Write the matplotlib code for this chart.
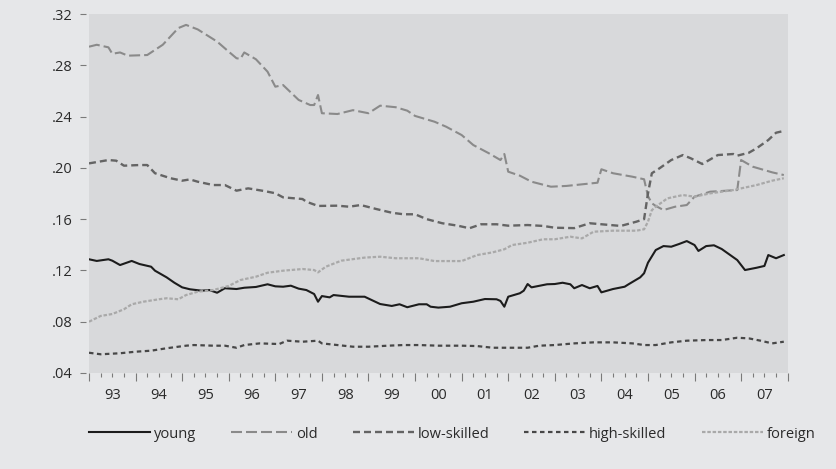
import matplotlib
matplotlib.use("Agg")
import matplotlib.pyplot as plt
from matplotlib.ticker import MultipleLocator, FixedLocator, NullFormatter
import numpy as np

# ---- data (months since Jan 1993, value) ----
years = ["93", "94", "95", "96", "97", "98", "99", "00", "01", "02", "03", "04", "05", "06", "07"]
start_year = 1993

young_m = [0, 2, 5, 6, 8, 11, 13, 16, 17, 20, 22, 24, 26, 29, 31, 33, 35, 38, 40, 43, 46, 48, 50, 52, 54, 56, 58, 59,
           60, 62, 63, 67, 71, 75, 78, 80, 82, 85, 87, 88, 90, 93, 96, 99, 102, 105, 106, 107, 108, 111, 112, 113,
           114, 118, 120, 122, 124, 125, 127, 129, 131, 132, 135, 138, 139, 142, 143, 144, 146, 148, 150, 152, 154,
           156, 157, 159, 161, 163, 167, 169, 172, 174, 175, 177, 179]
young_v = [.1287, .1274, .1287, .1276, .1242, .1274, .1250, .1229, .1198, .1146, .1104, .1068, .1053, .1042, .1047,
           .1026, .1061, .1055, .1065, .1071, .1092, .1076, .1073, .1081, .1058, .1047, .1016, .0956,
           .1000, .0990, .1008, .0995, .0995, .0938, .0923, .0936, .0913, .0936, .0936, .0917, .0910, .0917, .0944,
           .0956, .0977, .0975, .0962, .0917, .0995, .1022, .1042, .1094,
           .1068, .1092, .1094, .1104, .1092, .1061, .1086, .1061, .1079, .1029, .1055, .1073, .1092, .1146, .1178,
           .1260, .1359, .1390, .1385, .1406, .1429,
           .1398, .1352, .1390, .1396, .1367, .1281, .1203, .1221, .1235, .1320, .1295, .1320]

old_m = [0, 2, 5, 6, 8, 10, 15, 19, 23, 25, 28, 33, 36, 38, 39, 40, 43, 46, 48, 50, 54, 57, 58, 59, 60, 64, 68, 72,
         75, 79, 82, 84, 89, 92, 96, 99, 103, 106, 107, 108, 111, 114, 119, 123, 131, 132, 135, 140, 143, 144, 145,
         146, 148, 151, 154, 156, 160, 167, 168, 171, 176, 179]
old_v = [.2945, .2960, .2940, .2890, .2900, .2875, .2880, .2960, .3090, .3115, .3080, .2985, .2906, .2855, .2850,
         .2900, .2847, .2750, .2633, .2646, .2530, .2490, .2490, .2568, .2426, .2420, .2450, .2426,
         .2485, .2473, .2446, .2405, .2360, .2321, .2256, .2178, .2114, .2061, .2108, .1970, .1939, .1892, .1853,
         .1859, .1884, .1989, .1958, .1931, .1911, .1780, .1724,
         .1703, .1671, .1697, .1710, .1775, .1814, .1827, .2061, .2009, .1965, .1944]

low_m = [0, 1, 5, 7, 9, 13, 15, 17, 21, 24, 26, 28, 32, 35, 38, 41, 45, 48, 50, 55, 56, 59, 64, 67, 70, 74, 78, 81,
         84, 87, 91, 95, 98, 101, 105, 108, 113, 117, 120, 125, 129, 137, 141, 143, 144, 145, 147, 150, 153, 155,
         158, 162, 166, 167, 170, 172, 175, 177, 179]
low_v = [.2035, .2040, .2061, .2056, .2017, .2022, .2022, .1958, .1919, .1900, .1910, .1892, .1866, .1866, .1822,
         .1840, .1820, .1802, .1770, .1757, .1736, .1703, .1705, .1697, .1710, .1679, .1650, .1638,
         .1638, .1600, .1568, .1549, .1529, .1560, .1560, .1549, .1554, .1547, .1533, .1530, .1568, .1547, .1580,
         .1600, .1800, .1958, .1997, .2061, .2100, .2075,
         .2030, .2100, .2108, .2095, .2118, .2153, .2217, .2274, .2288]

high_m = [0, 3, 8, 12, 16, 20, 25, 27, 32, 35, 38, 40, 44, 49, 51, 55, 59, 60, 64, 68, 72, 77, 81, 85, 90, 96, 100,
          104, 108, 113, 116, 120, 125, 130, 135, 140, 143, 146, 150, 154, 159, 163, 167, 170, 173, 176, 179]
high_v = [.0558, .0546, .0554, .0566, .0574, .0593, .0613, .0618, .0613, .0613, .0597, .0618, .0631, .0626, .0652,
          .0644, .0652, .0631, .0618, .0605, .0605, .0613, .0618, .0618, .0613, .0613, .0610,
          .0597, .0597, .0597, .0613, .0618, .0631, .0639, .0639, .0631, .0618, .0618, .0639, .0652, .0657, .0657,
          .0675, .0670, .0652, .0631, .0644]

foreign_m = [0, 3, 6, 9, 11, 14, 18, 20, 23, 25, 28, 32, 36, 39, 43, 46, 50, 55, 58, 59, 61, 65, 71, 75, 79, 85, 89,
             93, 96, 100, 104, 107, 109, 113, 117, 120, 124, 127, 130, 135, 141, 143, 144, 145, 146, 149, 153, 156,
             160, 166, 172, 176, 179]
foreign_v = [.0800, .0845, .0860, .0897, .0936, .0956, .0975, .0983, .0975, .1008, .1034, .1047, .1079, .1125, .1151,
             .1182, .1198, .1211, .1203, .1185, .1229, .1276, .1300, .1307, .1295, .1295, .1273,
             .1273, .1273, .1320, .1341, .1365, .1398, .1416, .1443, .1443, .1463, .1450, .1502, .1510, .1510, .1521,
             .1580, .1670, .1697, .1762, .1788, .1775,
             .1801, .1827, .1866, .1900, .1919]

y_ticks = [.04, .08, .12, .16, .20, .24, .28, .32]
y_labels = [".04", ".08", ".12", ".16", ".20", ".24", ".28", ".32"]

# ---- styling ----
plt.rcParams['font.family'] = ['Open Sans', 'DejaVu Sans']
plt.rcParams['lines.scale_dashes'] = False

W, H = 836, 469
fig = plt.figure(figsize=(W / 100, H / 100), dpi=100, facecolor='#e6e7e9')
ax = fig.add_axes([89 / W, 1 - 373 / H, (787.7 - 89) / W, (373 - 14) / H])
ax.set_facecolor('#d8d9db')

def tx(m):
    return start_year + np.asarray(m) / 12.0

px = 0.72  # points per pixel
series = [
    ("young", young_m, young_v, dict(color='#1c1c1c', lw=1.5, ls='-')),
    ("old", old_m, old_v, dict(color='#8a8a8a', lw=1.5, dashes=(11 * px, 4 * px))),
    ("low-skilled", low_m, low_v, dict(color='#646464', lw=1.7, dashes=(7 * px, 4 * px))),
    ("high-skilled", high_m, high_v, dict(color='#474747', lw=1.6, dashes=(4.5 * px, 3.5 * px))),
    ("foreign", foreign_m, foreign_v, dict(color='#a9a9a9', lw=1.6, dashes=(3.5 * px, 1.8 * px))),
]
handles = []
for name, m, v, st in series:
    h, = ax.plot(tx(m), v, label=name, solid_joinstyle='round', dash_joinstyle='round', **st)
    handles.append(h)

ax.set_xlim(1993, 2008)
ax.set_ylim(.04, .32)
for s in ax.spines.values():
    s.set_visible(False)
ax.spines['left'].set_position(('outward', 2))

ax.yaxis.set_major_locator(FixedLocator(y_ticks))
ax.set_yticklabels(y_labels)
ax.tick_params(axis='y', length=4.5, width=0.8, color='#7a7a7a', pad=5, labelsize=10.5, labelcolor='#2a2a2a')

ax.xaxis.set_major_locator(MultipleLocator(1))
ax.xaxis.set_minor_locator(FixedLocator([start_year + q / 4 for q in range(61) if q % 4]))
ax.xaxis.set_major_formatter(NullFormatter())
ax.tick_params(axis='x', which='major', length=5.5, width=0.8, color='#7a7a7a', direction='out')
ax.tick_params(axis='x', which='minor', length=3, width=0.8, color='#7a7a7a', direction='out')

for i, lab in enumerate(years):
    ax.text(start_year + i + 0.5, -0.062, lab, transform=ax.get_xaxis_transform(), ha='center', va='center',
            fontsize=10.5, color='#2a2a2a')

fig.legend(handles=handles, loc='center left', bbox_to_anchor=(89 / W, 1 - 434 / H), ncol=5, frameon=False,
           fontsize=10.5, handlelength=4.2, handletextpad=0.25, columnspacing=2.4, borderpad=0, borderaxespad=0,
           labelcolor='#2a2a2a')

fig.savefig("out.png", dpi=100, facecolor=fig.get_facecolor())
